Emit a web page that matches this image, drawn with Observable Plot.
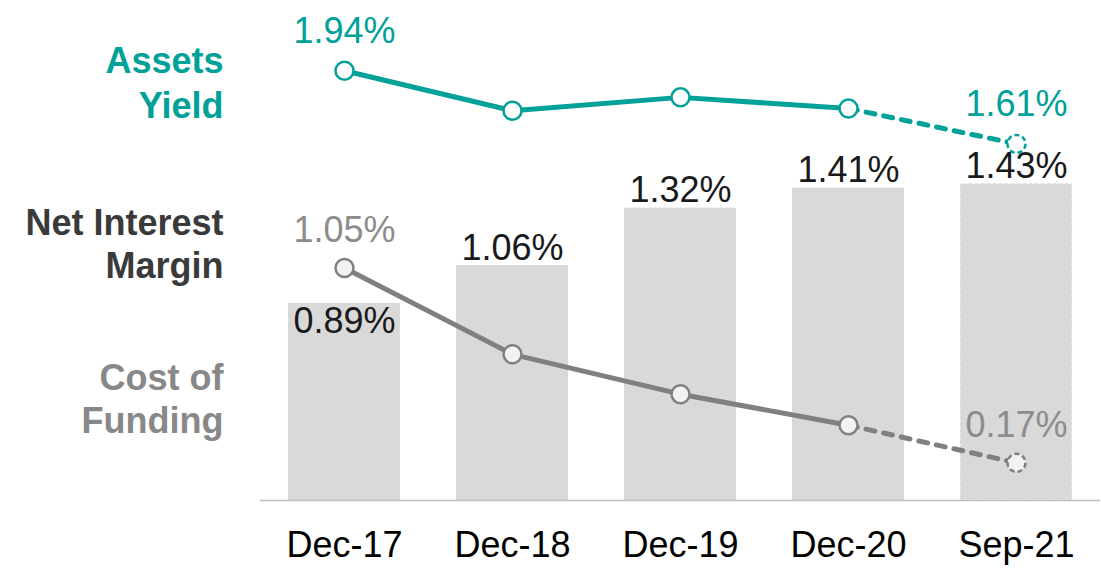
<!DOCTYPE html>
<html>
<head>
<meta charset="utf-8">
<script src="https://cdn.jsdelivr.net/npm/d3@7"></script>
<script src="https://cdn.jsdelivr.net/npm/@observablehq/plot@0.6"></script>
<style>
  html, body { margin: 0; padding: 0; background: #fff; }
  #chart svg { display: block; }
</style>
</head>
<body>
<div id="chart"></div>
<script>
const periods = ["Dec-17", "Dec-18", "Dec-19", "Dec-20", "Sep-21"];
const netInterestMargin = [0.89, 1.06, 1.32, 1.41, 1.43];
const assetsYield = [1.94, 1.76, 1.82, 1.77, 1.61];
const costOfFunding = [1.05, 0.66, 0.48, 0.34, 0.17];

const TEAL = "#00A198";
const GREY_LINE = "#808080";
const BAR = "#D9D9D9";

const rows = periods.map((p, i) => ({
  period: p, i,
  nim: netInterestMargin[i],
  ay: assetsYield[i],
  cof: costOfFunding[i],
  projected: i === periods.length - 1
}));
const last = rows.length - 1;
const solidRows = rows.filter(d => d.i <= last - 1);
const dashRows = rows.filter(d => d.i >= last - 1);
const fmt = v => v.toFixed(2) + "%";

const chart = Plot.plot({
  width: 1101,
  height: 570,
  marginLeft: 260,
  marginRight: 1,
  marginTop: 0,
  marginBottom: 70,
  style: { fontFamily: "'Liberation Sans', Arial, sans-serif", fontSize: "36px", background: "#fff" },
  x: { type: "band", domain: periods, paddingInner: 1/3, paddingOuter: 1/6, label: null },
  y: { domain: [0, 500 / 221.5], axis: null },
  marks: [
    Plot.barY(rows, { x: "period", y: "nim", fill: BAR }),
    Plot.barY(rows.filter(d => d.projected), { x: "period", y: "nim", fill: "none", stroke: "#ffffff", strokeWidth: 1, strokeDasharray: "3,3", strokeOpacity: 0.9 }),
    Plot.ruleY([0], { stroke: "#BFBFBF", strokeWidth: 1.5 }),
    Plot.axisX({ tickSize: 0, tickPadding: 31, fontSize: 36, fill: "#000" }),
    // bar labels
    Plot.text(rows.filter(d => d.i > 0), { x: "period", y: "nim", text: d => fmt(d.nim), lineAnchor: "bottom", dy: -6, fill: "#1a1a1a", fontSize: 36 }),
    Plot.text(rows.filter(d => d.i === 0), { x: "period", y: "nim", text: d => fmt(d.nim), lineAnchor: "top", dy: 4, fill: "#1a1a1a", fontSize: 36 }),
    // Cost of funding line
    Plot.line(solidRows, { x: "period", y: "cof", stroke: GREY_LINE, strokeWidth: 5 }),
    Plot.line(dashRows, { x: "period", y: "cof", stroke: GREY_LINE, strokeWidth: 5, strokeDasharray: "9,9", strokeLinecap: "round" }),
    Plot.dot(rows.filter(d => !d.projected), { x: "period", y: "cof", r: 9, fill: "#F2F2F2", stroke: GREY_LINE, strokeWidth: 2.5 }),
    Plot.dot(rows.filter(d => d.projected), { x: "period", y: "cof", r: 9, fill: "#F2F2F2", stroke: GREY_LINE, strokeWidth: 2.5, strokeDasharray: "5,3" }),
    Plot.text(rows.filter(d => d.i === 0 || d.i === last), { x: "period", y: "cof", text: d => fmt(d.cof), lineAnchor: "bottom", dy: -26, fill: "#8C8C8C", fontSize: 36 }),
    // Assets yield line
    Plot.line(solidRows, { x: "period", y: "ay", stroke: TEAL, strokeWidth: 5 }),
    Plot.line(dashRows, { x: "period", y: "ay", stroke: TEAL, strokeWidth: 5, strokeDasharray: "9,9", strokeLinecap: "round" }),
    Plot.dot(rows.filter(d => !d.projected), { x: "period", y: "ay", r: 9, fill: "#fff", stroke: TEAL, strokeWidth: 2.5 }),
    Plot.dot(rows.filter(d => d.projected), { x: "period", y: "ay", r: 9, fill: "#fff", stroke: TEAL, strokeWidth: 2.5, strokeDasharray: "5,3" }),
    Plot.text(rows.filter(d => d.i === 0 || d.i === last), { x: "period", y: "ay", text: d => fmt(d.ay), lineAnchor: "bottom", dy: -28, fill: TEAL, fontSize: 36 }),
    // series labels on the left
    Plot.text(["Assets\nYield"], { frameAnchor: "top-left", lineAnchor: "top", dx: -37, dy: 41, text: d => d, textAnchor: "end", lineHeight: 1.25, fontWeight: "bold", fill: TEAL, fontSize: 36 }),
    Plot.text(["Net Interest\nMargin"], { frameAnchor: "top-left", lineAnchor: "top", dx: -37, dy: 204, text: d => d, textAnchor: "end", lineHeight: 1.2, fontWeight: "bold", fill: "#3A3A3A", fontSize: 36 }),
    Plot.text(["Cost of\nFunding"], { frameAnchor: "top-left", lineAnchor: "top", dx: -37, dy: 359, text: d => d, textAnchor: "end", lineHeight: 1.2, fontWeight: "bold", fill: "#888888", fontSize: 36 })
  ]
});
document.getElementById("chart").appendChild(chart);
</script>
</body>
</html>
